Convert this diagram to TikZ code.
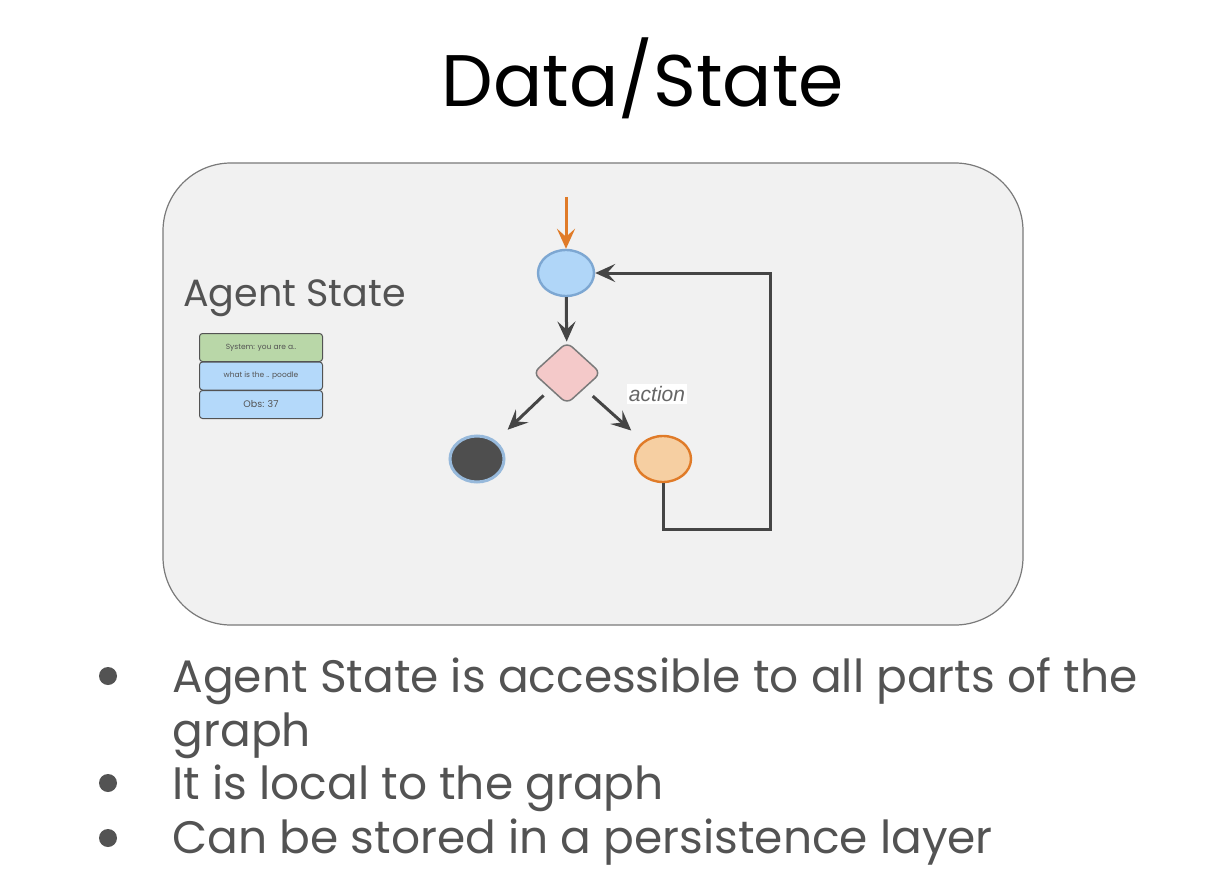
\documentclass[tikz,border=0pt]{standalone}
\usepackage{fontspec}
\setmainfont{Poppins}
\newfontfamily\arialf{Liberation Sans}
\usetikzlibrary{arrows.meta,shapes.geometric}
\definecolor{panelfill}{HTML}{F1F1F1}
\definecolor{panelline}{HTML}{7A7A7A}
\definecolor{txtgray}{HTML}{535353}
\definecolor{arrgray}{HTML}{454545}
\definecolor{orng}{HTML}{E07B28}
\definecolor{orngfill}{HTML}{F6CFA2}
\definecolor{bluefill}{HTML}{B0D6F8}
\definecolor{blueline}{HTML}{7DA7D2}
\definecolor{pinkfill}{HTML}{F4C9C9}
\definecolor{greenfill}{HTML}{B9D7A8}
\definecolor{stackblue}{HTML}{B4D9FA}
\tikzset{
  arr/.style={draw=arrgray, line width=3pt, -{Stealth[length=20pt,width=18pt,inset=8pt]}},
  ell/.style={ellipse, inner sep=0pt, minimum width=56pt, minimum height=46pt, line width=2.4pt},
  stackbox/.style={draw=txtgray, line width=1pt, rounded corners=3pt, minimum width=123pt, minimum height=28pt, inner sep=0pt, text=txtgray},
  bullettext/.style={anchor=base west, align=left, text=txtgray, font=\fontsize{45.5}{54}\selectfont},
  bulletdot/.style={circle, fill=txtgray, inner sep=0pt, minimum size=18pt},
}
\begin{document}
\begin{tikzpicture}[x=1pt,y=-1pt]
\useasboundingbox[fill=white] (0,0) rectangle (1212,896);
% title
\node[anchor=base, font=\fontsize{73}{76}\selectfont] (title) at (643,107) {Data/State};
% panel
\node[draw=panelline, fill=panelfill, line width=1.2pt, rounded corners=68pt, minimum width=860pt, minimum height=462pt, inner sep=0pt] (panel) at (593,394) {};
% agent state label and stack
\node[anchor=base west, text=txtgray, font=\fontsize{38}{40}\selectfont, inner sep=0pt] (aslabel) at (183,306) {Agent State};
\node[stackbox, fill=greenfill, font=\fontsize{7.5}{8}\selectfont] (s1) at (261,347.5) {System: you are a..};
\node[stackbox, fill=stackblue, font=\fontsize{7.5}{8}\selectfont] (s2) at (261,376) {what is the .. poodle};
\node[stackbox, fill=stackblue, font=\fontsize{9.5}{10}\selectfont] (s3) at (261,404.5) {Obs: 37};
% graph
\node[ell, fill=bluefill, draw=blueline] (b) at (566,273) {};
\node[diamond, fill=pinkfill, draw=panelline, line width=1.5pt, rounded corners=7pt, minimum width=68pt, minimum height=62pt, inner sep=0pt] (d) at (567,373) {};
\node[ell, fill=arrgray!95, draw=blueline!80, line width=3pt, minimum width=54pt] (dk) at (477,459) {};
\node[ell, fill=orngfill, draw=orng] (o) at (663,459) {};
\coordinate (start) at (566,197);
\coordinate (loopc) at (770,529);
\draw[arr, draw=orng] (start) -- (b.north);
\draw[arr] (b) -- (d);
\draw[arr, shorten <=9pt, shorten >=16pt] (d) -- (dk);
\draw[arr, shorten <=11pt, shorten >=16pt] (d) -- (o);
\draw[arr] (o.south) |- (loopc) |- (b.east);
\node[fill=white, text=gray!80!black, inner sep=2pt, font=\arialf\itshape\fontsize{21}{22}\selectfont] (act) at (657,394) {action};
% bullets
\node[bullettext] (t1) at (169,746) {Agent State is accessible to all parts of the\\graph};
\node[bullettext] (t2) at (169,799) {It is local to the graph};
\node[bullettext] (t3) at (169,853) {Can be stored in a persistence layer};
\node[bulletdot] (b1) at (108,676) {};
\node[bulletdot] (b2) at (108,783) {};
\node[bulletdot] (b3) at (108,838) {};
\end{tikzpicture}
\end{document}
